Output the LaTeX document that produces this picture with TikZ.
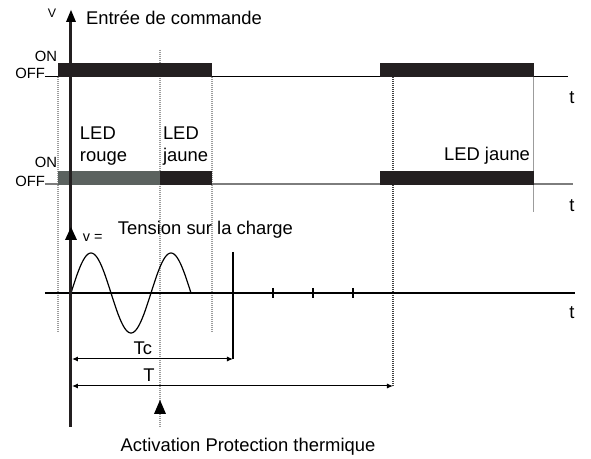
\documentclass[tikz,border=0pt]{standalone}
\usepackage{fontspec}
\setmainfont{Liberation Sans}
\usetikzlibrary{arrows.meta}
\definecolor{barblack}{HTML}{231F20}
\definecolor{bargray}{HTML}{5B625F}
\definecolor{guide}{HTML}{9C9C9C}
\tikzset{
	lbl/.style={font=\fontsize{9.2}{11}\selectfont},
	lvl/.style={font=\fontsize{7.4}{9}\selectfont},
	guideline/.style={guide, line width=.6pt, dash pattern=on .6pt off .4pt},
	axis/.style={line width=1.5pt, barblack},
	dim/.style={line width=.5pt, {Latex[length=3pt,width=2.5pt]}-{Latex[length=3pt,width=2.5pt]}},
	head/.style={fill=black}
}
\begin{document}
\begin{tikzpicture}[x=.5pt, y=-.5pt, every node/.style={inner sep=0, outer sep=0}]
		\useasboundingbox (0,0) rectangle (591,459);
		% repères verticaux
		\draw[guideline] (58,77) -- (58,332);
		\draw[guideline] (160,50) -- (160,427);
		\draw[guideline] (212,77) -- (212,332);
		\draw[guideline, black!75] (393,77) -- (393,386);
		\draw[guide, line width=.5pt] (534,77) -- (534,212);
		% entrée de commande
		\node[lvl, anchor=base east] (on1) at (57,62) {ON};
		\node[lvl, anchor=base east] (off1) at (45,79) {OFF};
		\coordinate (t1) at (568,77);
		\draw[line width=.5pt] (off1.east |- t1) -- (t1);
		\fill[barblack] (58,63) rectangle (212,77);
		\fill[barblack] (380,63) rectangle (534,77);
		\node[lbl, anchor=base] (tt1) at (572,104) {t};
		% LED
		\node[lvl, anchor=base east] (on2) at (57,168) {ON};
		\node[lvl, anchor=base east] (off2) at (45,187) {OFF};
		\coordinate (t2) at (573,184);
		\draw[guide!80!black, line width=.6pt] (off2.east |- t2) -- (t2);
		\fill[bargray] (58,171) rectangle (160,185);
		\fill[barblack] (160,171) rectangle (212,185);
		\fill[barblack] (380,171) rectangle (534,185);
		\node[lbl, anchor=base] (tt2) at (572,212) {t};
		\node[lbl, anchor=base west, align=left] (rouge) at (80,162) {LED\\rouge};
		\node[lbl, anchor=base west, align=left] (jaune) at (163,162) {LED\\jaune};
		\node[lbl, anchor=base east] (jaune2) at (530,161) {LED jaune};
		% tension sur la charge
		\coordinate (o) at (71,293);
		\coordinate (t3) at (575,293);
		\draw[line width=.6pt] (45,293) -- (t3);
		\node[lbl, anchor=base] (tt3) at (572,319) {t};
		\draw[line width=.6pt] plot[domain=71:191, samples=80] (\x, {293-40*sin(4.5*(\x-71))});
		\coordinate (tc) at (233,359);
		\draw[line width=.6pt] (233,252) -- (tc);
		\foreach \x in {273,313,353}
			\draw[line width=.6pt] (\x,288) -- (\x,298);
		% axe principal
		\draw[axis] (71,427) -- (71,22);
		\fill[head] (66,22) -- (71,10) -- (76,22) -- cycle;
		\fill[head] (65,240) -- (71,227) -- (77,240) -- cycle;
		\node[font=\fontsize{6.2}{7}\selectfont, anchor=base] (v) at (52,18) {V};
		\node[lbl, anchor=base west] (cmd) at (86,25) {Entrée de commande};
		\node[font=\fontsize{7.2}{8}\selectfont, anchor=base west] (veq) at (83,242) {v =};
		\node[lbl, anchor=base west] (charge) at (118,235) {Tension sur la charge};
		% durées
		\coordinate (tl) at (72,386);
		\coordinate (tr) at (393,386);
		\draw[dim] (72,359) -- (tc) node[lbl, pos=.44, above=2pt] (tclbl) {Tc};
		\draw[dim] (tl) -- (tr) node[lbl, pos=.24, above=2pt] (tlbl) {T};
		% protection thermique
		\fill[head] (154,414) -- (160,400) -- (166,414) -- cycle;
		\node[lbl, anchor=base] (prot) at (248,452) {Activation Protection thermique};
\end{tikzpicture}
\end{document}
